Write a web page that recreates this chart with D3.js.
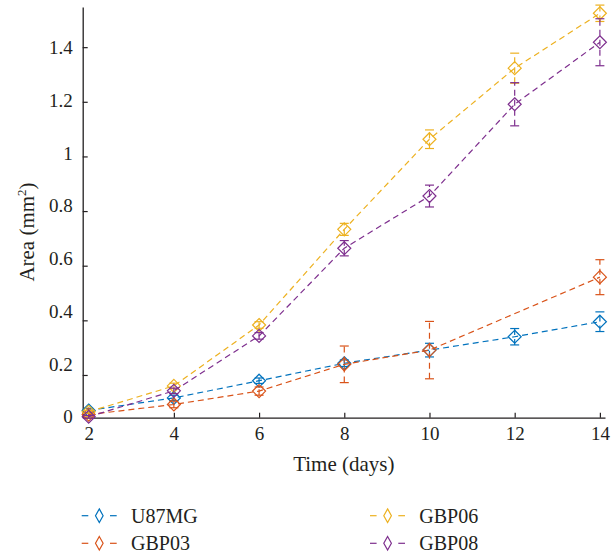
<!DOCTYPE html>
<html>
<head>
<meta charset="utf-8">
<script src="https://cdn.jsdelivr.net/npm/d3@7"></script>
<style>
  html, body { margin: 0; padding: 0; background: #fff; }
  svg text { font-family: "Liberation Serif", "Times New Roman", "DejaVu Serif", serif !important; fill: #231f20; }
</style>
</head>
<body>
<svg id="chart" width="611" height="554" font-family="Liberation Serif, serif"></svg>
<script>
// ---- data ----
const days = [2, 4, 6, 8, 10, 12, 14];
const seriesNames = ["U87MG", "GBP03", "GBP06", "GBP08"];
const seriesColors = ["#0072BD", "#D95319", "#EDB120", "#7E2F8E"];
const u87mg    = [0.070, 0.116, 0.179, 0.243, 0.291, 0.340, 0.395];
const u87mgErr = [0.008, 0.010, 0.010, 0.012, 0.025, 0.030, 0.036];
const gbp03    = [0.055, 0.092, 0.141, 0.239, 0.291, null, 0.558];
const gbp03Err = [0.005, 0.012, 0.015, 0.067, 0.105, null, 0.064];
const gbp06    = [0.065, 0.160, 0.383, 0.733, 1.063, 1.323, 1.524];
const gbp06Err = [0.005, 0.010, 0.012, 0.022, 0.034, 0.055, 0.030];
const gbp08    = [0.047, 0.142, 0.343, 0.664, 0.855, 1.191, 1.418];
const gbp08Err = [0.005, 0.010, 0.012, 0.028, 0.040, 0.079, 0.086];
const xTicks = [2, 4, 6, 8, 10, 12, 14];
const yTicks = [0.2, 0.4, 0.6, 0.8, 1.0, 1.2, 1.4];
const yLabelTicks = [0, 0.2, 0.4, 0.6, 0.8, 1, 1.2, 1.4];
const xTitle = "Time (days)";

const seriesValues = [u87mg, gbp03, gbp06, gbp08];
const seriesErrors = [u87mgErr, gbp03Err, gbp06Err, gbp08Err];

// ---- layout ----
const FONT = "Liberation Serif, Times New Roman, DejaVu Serif, serif";
const svg = d3.select("#chart");
const x = d3.scaleLinear().domain([1.86, 14.12]).range([82.7, 605]);
const y = d3.scaleLinear().domain([0.0436, 1.547]).range([417.7, 7]);
// label placement scale (tick labels in the reference sit on a slightly different spacing)
const yLab = d3.scaleLinear().domain([0, 1.4]).range([417, 47.5]);

const dash = "6,4";
const sw = 1.2;

// axes
const gx = svg.append("g").attr("transform", `translate(0,${y.range()[0]})`)
  .call(d3.axisBottom(x).tickValues(xTicks).tickSizeInner(-5).tickSizeOuter(0).tickPadding(9).tickFormat(d3.format("d")));
gx.attr("font-family", FONT);
gx.select(".domain").attr("stroke", "#231f20").attr("stroke-width", 1.3);
gx.selectAll(".tick line").attr("stroke", "#231f20").attr("stroke-width", 1.2);
gx.selectAll(".tick text").attr("font-size", 19).attr("font-family", FONT).attr("fill", "#231f20");

const gy = svg.append("g").attr("transform", `translate(${x.range()[0]},0)`)
  .call(d3.axisLeft(y).tickValues(yTicks).tickSizeInner(-5).tickSizeOuter(0).tickFormat(""));
gy.select(".domain").attr("stroke", "#231f20").attr("stroke-width", 1.3);
gy.selectAll(".tick line").attr("stroke", "#231f20").attr("stroke-width", 1.2);

svg.append("g").selectAll("text").data(yLabelTicks).join("text")
  .attr("x", x.range()[0] - 10)
  .attr("y", d => yLab(d))
  .attr("dy", "0.34em")
  .attr("text-anchor", "end")
  .attr("font-family", FONT)
  .attr("font-size", 19)
  .text(d => d3.format("~g")(d));

// axis titles
svg.append("text").attr("x", (x.range()[0] + x.range()[1]) / 2).attr("y", 471)
  .attr("text-anchor", "middle").attr("font-family", FONT).attr("font-size", 21).text(xTitle);

const yt = svg.append("text").attr("transform", "translate(34,232) rotate(-90)")
  .attr("text-anchor", "middle").attr("font-family", FONT).attr("font-size", 21);
yt.append("tspan").text("Area (mm");
yt.append("tspan").attr("font-size", 13).attr("dy", -8).text("2");
yt.append("tspan").attr("dy", 8).text(")");

// diamond path
function diamond(hw, hh) { return `M0,${-hh}L${hw},0L0,${hh}L${-hw},0Z`; }

// series
const plot = svg.append("g");
seriesNames.forEach((name, i) => {
  const pts = days.map((d, j) => ({ d, v: seriesValues[i][j], e: seriesErrors[i][j] })).filter(p => p.v != null);
  const col = seriesColors[i];
  const g = plot.append("g");
  g.append("path").datum(pts)
    .attr("d", d3.line().x(p => x(p.d)).y(p => y(p.v)))
    .attr("fill", "none").attr("stroke", col).attr("stroke-width", sw).attr("stroke-dasharray", dash);
  // error bars
  const eb = g.selectAll(".eb").data(pts).join("g");
  eb.append("line")
    .attr("x1", p => x(p.d)).attr("x2", p => x(p.d))
    .attr("y1", p => y(p.v - p.e)).attr("y2", p => y(p.v + p.e))
    .attr("stroke", col).attr("stroke-width", sw).attr("stroke-dasharray", dash);
  [-1, 1].forEach(s => {
    eb.append("line")
      .attr("x1", p => x(p.d) - 4.5).attr("x2", p => x(p.d) + 4.5)
      .attr("y1", p => y(p.v + s * p.e)).attr("y2", p => y(p.v + s * p.e))
      .attr("stroke", col).attr("stroke-width", sw);
  });
  g.selectAll(".mk").data(pts).join("path")
    .attr("d", diamond(6.5, 6.5))
    .attr("transform", p => `translate(${x(p.d)},${y(p.v)})`)
    .attr("fill", "none").attr("stroke", col).attr("stroke-width", sw);
});

// legend
const legRows = [515.7, 543.3];
const legCols = [81.7, 370];
seriesNames.forEach((name, i) => {
  const cx = legCols[Math.floor(i / 2)];
  const cy = legRows[i % 2];
  const col = seriesColors[i];
  const g = svg.append("g").attr("transform", `translate(${cx},${cy})`);
  g.append("line").attr("x1", 0).attr("x2", 6.6).attr("y1", 0).attr("y2", 0).attr("stroke", col).attr("stroke-width", sw);
  g.append("line").attr("x1", 28.3).attr("x2", 35).attr("y1", 0).attr("y2", 0).attr("stroke", col).attr("stroke-width", sw);
  g.append("path").attr("d", diamond(3.8, 6.8)).attr("transform", "translate(17.6,0)")
    .attr("fill", "none").attr("stroke", col).attr("stroke-width", sw);
  g.append("text").attr("x", 49.3).attr("y", 0).attr("dy", "0.35em").attr("font-family", FONT).attr("font-size", 20).text(name);
});
</script>
</body>
</html>
